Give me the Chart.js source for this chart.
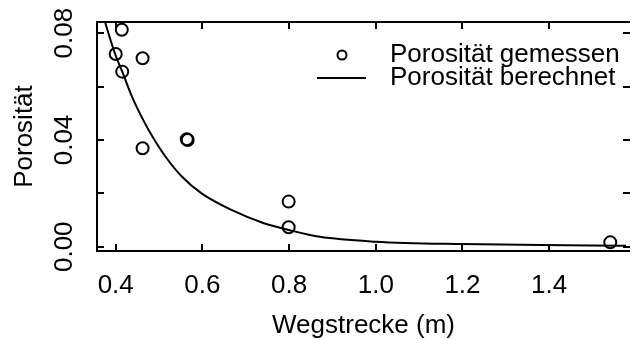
<!DOCTYPE html>
<html>
<head>
<meta charset="utf-8">
<script src="https://cdn.jsdelivr.net/npm/chart.js@4/dist/chart.umd.min.js"></script>
<style>
  html, body { margin: 0; padding: 0; background: #fff; overflow: hidden; }
  #porChart { display: block; }
</style>
</head>
<body>
<canvas id="porChart" width="634" height="340"></canvas>
<script>
// gemessene Werte
var wegMess = [0.414, 0.400, 0.415, 0.462, 0.462, 0.564, 0.566, 0.799, 0.799, 1.541];
var porMess = [0.0813, 0.0722, 0.0656, 0.0706, 0.0369, 0.0403, 0.0400, 0.0169, 0.0073, 0.00165];

// berechnete Kurve
var wegCalc = [0.370, 0.398, 0.415, 0.439, 0.466, 0.485, 0.515, 0.553, 0.598, 0.667, 0.742, 0.799, 0.871, 1.000, 1.197, 1.500, 1.590];
var porCalc = [0.0870, 0.0725, 0.0656, 0.0557, 0.0467, 0.0412, 0.0337, 0.0262, 0.0200, 0.0138, 0.0088, 0.0063, 0.0037, 0.0019, 0.0010, 0.0005, 0.0003];

var xTickVals = [0.4, 0.6, 0.8, 1.0, 1.2, 1.4];
var xTickLabels = ["0.4", "0.6", "0.8", "1.0", "1.2", "1.4"];
var yTickVals = [0, 0.02, 0.04, 0.06, 0.08];
var yLabelVals = [0, 0.04, 0.08];
var yTickLabels = ["0.00", "0.04", "0.08"];

var FONT = '"Liberation Sans", Arial, sans-serif';

function pts(xs, ys) {
  return xs.map(function (v, i) { return { x: v, y: ys[i] }; });
}

var rPlot = {
  id: "rPlot",
  afterDraw: function (chart) {
    var ctx = chart.ctx, a = chart.chartArea;
    var x = chart.scales.x, y = chart.scales.y;
    var rightAxis = a.right + 4; // rechte Achse liegt knapp ausserhalb des Bildes
    ctx.save();
    ctx.strokeStyle = "#000";
    ctx.fillStyle = "#000";
    ctx.lineWidth = 2;

    function seg(x1, y1, x2, y2) {
      ctx.beginPath(); ctx.moveTo(x1, y1); ctx.lineTo(x2, y2); ctx.stroke();
    }
    // Rahmen (links, oben, unten)
    seg(a.left, a.top, rightAxis, a.top);
    seg(a.left, a.bottom, rightAxis, a.bottom);
    seg(a.left, a.top - 1, a.left, a.bottom + 1);

    // Ticks nach innen
    xTickVals.forEach(function (v) {
      var px = Math.round(x.getPixelForValue(v));
      seg(px, a.bottom, px, a.bottom - 7);
      seg(px, a.top, px, a.top + 7);
    });
    yTickVals.forEach(function (v) {
      var py = Math.round(y.getPixelForValue(v));
      seg(a.left, py, a.left + 7, py);
      seg(rightAxis, py, rightAxis - 7, py);
    });

    ctx.font = "26px " + FONT;
    ctx.textAlign = "center";
    ctx.textBaseline = "middle";
    xTickLabels.forEach(function (t, i) {
      ctx.fillText(t, x.getPixelForValue(xTickVals[i]), a.bottom + 35);
    });
    yTickLabels.forEach(function (t, i) {
      ctx.save();
      ctx.translate(a.left - 32, y.getPixelForValue(yLabelVals[i]));
      ctx.rotate(-Math.PI / 2);
      ctx.fillText(t, 0, 0);
      ctx.restore();
    });

    // Achsentitel
    ctx.fillText("Wegstrecke (m)", (a.left + rightAxis) / 2, a.bottom + 75);
    ctx.save();
    ctx.translate(a.left - 72, (a.top + a.bottom) / 2);
    ctx.rotate(-Math.PI / 2);
    ctx.fillText("Porosität", 0, 0);
    ctx.restore();

    // Legende
    var ds = chart.data.datasets;
    var lx = rightAxis - 288, ly1 = a.top + 33, ly2 = a.top + 56;
    ctx.beginPath();
    ctx.arc(lx, ly1, 4.5, 0, Math.PI * 2);
    ctx.stroke();
    seg(lx - 25, ly2, lx + 24, ly2);
    ctx.textAlign = "left";
    ctx.fillText(ds[0].label, lx + 48, ly1);
    ctx.fillText(ds[1].label, lx + 48, ly2);
    ctx.restore();
  }
};

new Chart(document.getElementById("porChart").getContext("2d"), {
  type: "scatter",
  data: {
    datasets: [{
      label: "Porosität gemessen",
      data: pts(wegMess, porMess),
      pointStyle: "circle",
      pointRadius: 6,
      borderWidth: 2,
      borderColor: "#000",
      backgroundColor: "rgba(0,0,0,0)",
      showLine: false
    }, {
      label: "Porosität berechnet",
      data: pts(wegCalc, porCalc),
      showLine: true,
      pointRadius: 0,
      borderColor: "#000",
      borderWidth: 2,
      cubicInterpolationMode: "monotone",
      fill: false
    }]
  },
  plugins: [rPlot],
  options: {
    responsive: false,
    animation: false,
    layout: { padding: { top: 22, right: 0, left: 0, bottom: 0 } },
    plugins: { legend: { display: false }, tooltip: { enabled: false } },
    scales: {
      x: {
        type: "linear",
        min: 0.3568,
        max: 1.5773,
        grid: { display: false },
        border: { display: false },
        ticks: { display: false },
        afterFit: function (s) { s.height = 89; }
      },
      y: {
        type: "linear",
        min: -0.0016,
        max: 0.0842,
        grid: { display: false },
        border: { display: false },
        ticks: { display: false },
        afterFit: function (s) { s.width = 97; }
      }
    }
  }
});
</script>
</body>
</html>
